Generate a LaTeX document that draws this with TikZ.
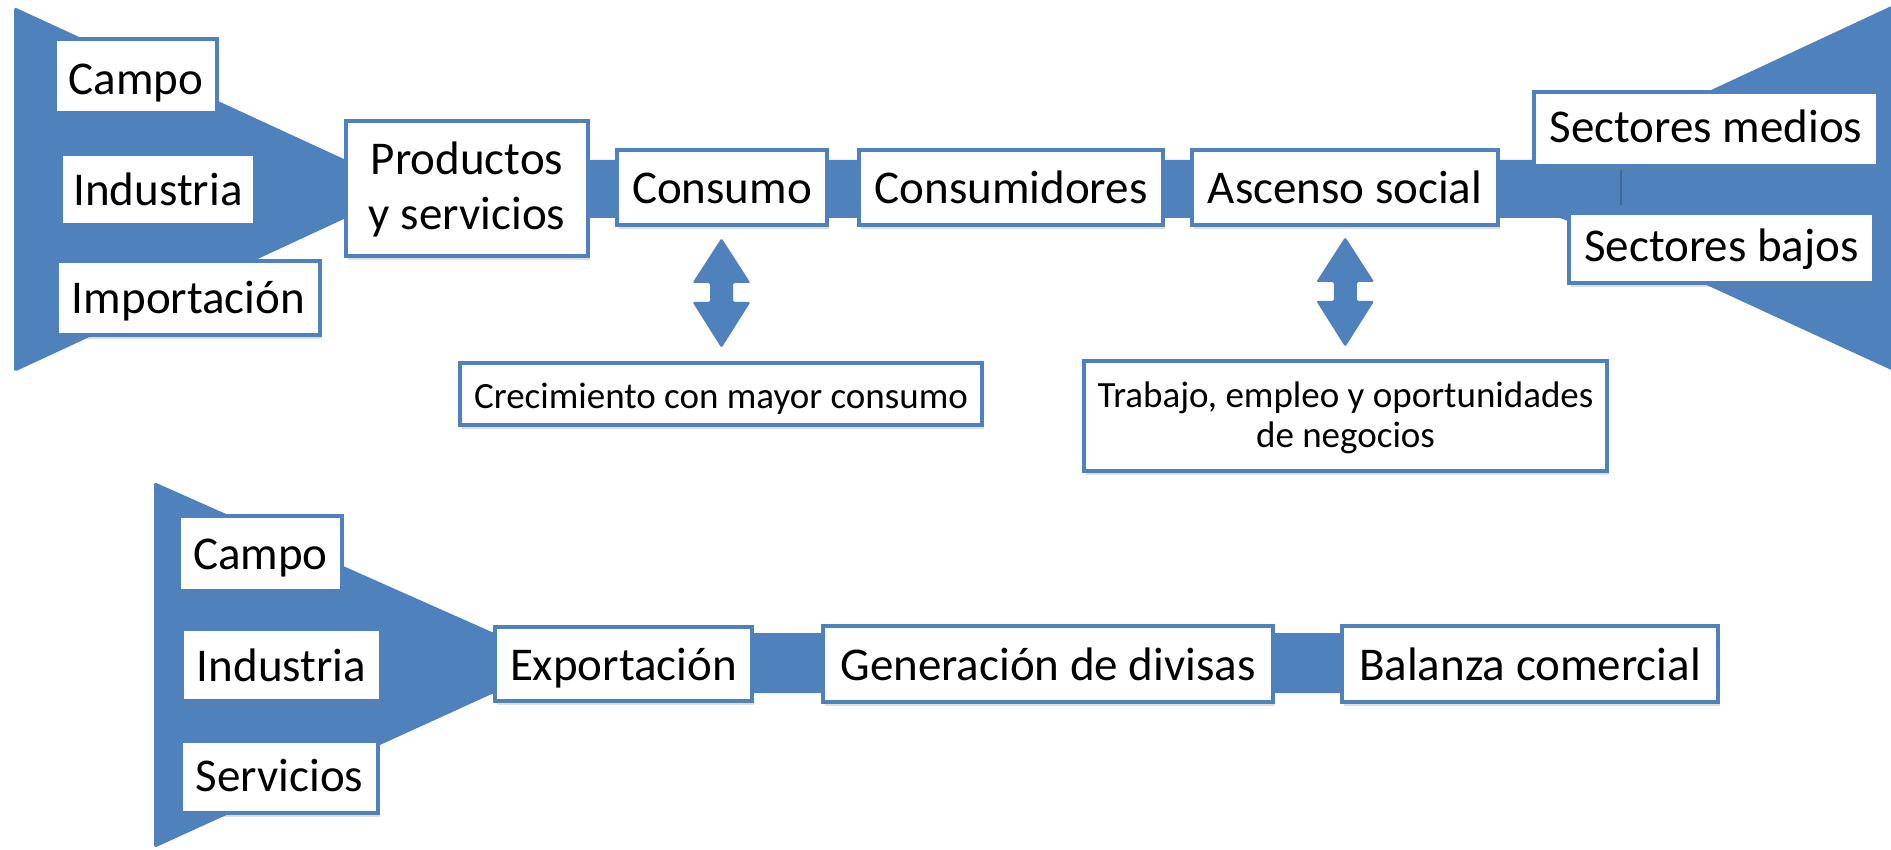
\documentclass[tikz,border=0pt]{standalone}
\usepackage{fontspec}
\setmainfont{Carlito}
\usetikzlibrary{shadows,calc}
\definecolor{myblue}{HTML}{4F81BD}
\begin{document}
\begin{tikzpicture}[x=1pt,y=-1pt,
  box/.style={draw=myblue, line width=4pt, fill=white, inner sep=0pt, align=center,
    font=\fontsize{47}{55}\selectfont, text height=40pt, text depth=8pt,
    drop shadow={shadow xshift=1.5pt, shadow yshift=-4pt, opacity=0.25}},
  smallbox/.style={box, font=\fontsize{37}{40}\selectfont},
  band/.style={fill=myblue, rounded corners=3pt},
  updown/.style={fill=myblue, rounded corners=1.5pt}]
\useasboundingbox (0,0) rectangle (1891,850);

% bands / funnels
\fill[band] (14,7) -- (346,160) -- (1561,160) -- (1900,2) -- (1900,374) -- (1561,218) -- (346,218) -- (14,372) -- cycle;
\fill[band] (154,482) -- (494,633) -- (1342,633) -- (1342,693) -- (494,693) -- (154,848) -- cycle;
\draw[myblue!80!black, line width=1.2pt] (1621,170) -- (1621,205);

% top row
\node[box, minimum width=162pt, minimum height=74pt, text depth=2pt] (campoA) at (136,76) {Campo};
\node[box, minimum width=194pt, minimum height=71pt] (indA) at (158,189.5) {Industria};
\node[box, minimum width=263pt, minimum height=74pt] (impA) at (188.5,298) {Importación};
\node[box, minimum width=242pt, minimum height=135pt, text height=95pt, text depth=12pt] (prod) at (467,188.5) {Productos\\y servicios};
\node[box, minimum width=210pt, minimum height=75pt] (consumo) at (722,187.5) {Consumo};
\node[box, minimum width=304pt, minimum height=75pt] (consumidores) at (1011,187.5) {Consumidores};
\node[box, minimum width=306pt, minimum height=75pt] (ascenso) at (1345,187.5) {Ascenso social};
\node[box, minimum width=344pt, minimum height=74pt, text depth=12pt] (medios) at (1706,129) {Sectores medios};
\node[box, minimum width=305pt, minimum height=70pt, text depth=12pt] (bajos) at (1721.5,248) {Sectores bajos};
\node[smallbox, minimum width=522pt, minimum height=62pt, text height=36pt, text depth=6.6pt] (crec) at (721,394) {Crecimiento con mayor consumo};
\node[smallbox, minimum width=523pt, minimum height=110pt, text height=70pt, text depth=8pt] (trab) at (1345.5,416) {Trabajo, empleo y oportunidades\\de negocios};

% double arrows
\begin{scope}[shift={($(consumo.south)!0.5!(crec.north)$)}]
  \fill[updown] (0,-56) -- (29,-11) -- (11.5,-11) -- (11.5,8) -- (29,8) -- (0,54) -- (-29,8) -- (-11.5,8) -- (-11.5,-11) -- (-29,-11) -- cycle;
\end{scope}
\begin{scope}[shift={($(ascenso.south)!0.5!(trab.north)$)}]
  \fill[updown] (0,-56) -- (29,-11) -- (11.5,-11) -- (11.5,8) -- (29,8) -- (0,54) -- (-29,8) -- (-11.5,8) -- (-11.5,-11) -- (-29,-11) -- cycle;
\end{scope}

% bottom row
\node[box, minimum width=163pt, minimum height=75pt] (campoB) at (260.5,553.5) {Campo};
\node[box, minimum width=199pt, minimum height=72pt] (indB) at (281.5,665) {Industria};
\node[box, minimum width=197pt, minimum height=72pt, text depth=12pt] (serv) at (279.5,777) {Servicios};
\node[box, minimum width=257pt, minimum height=74pt] (expo) at (623.5,664) {Exportación};
\node[box, minimum width=450pt, minimum height=76pt] (gen) at (1048,664) {Generación de divisas};
\node[box, minimum width=376pt, minimum height=76pt] (bal) at (1530,664) {Balanza comercial};
\end{tikzpicture}
\end{document}
